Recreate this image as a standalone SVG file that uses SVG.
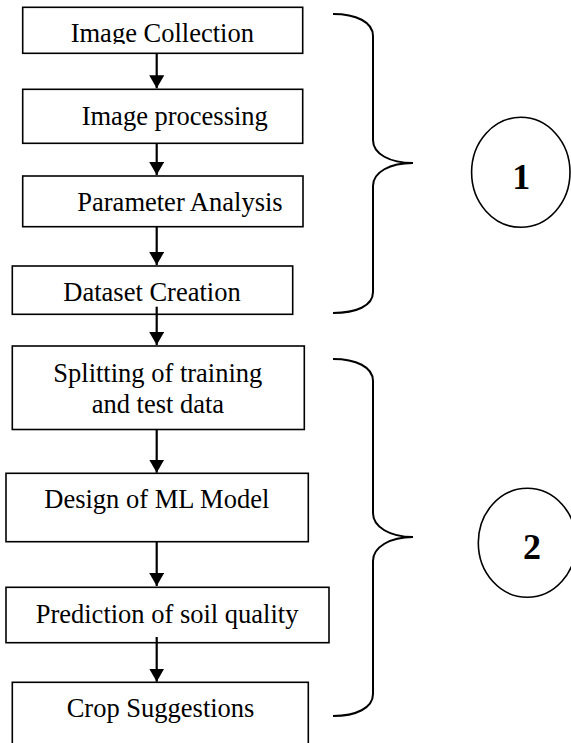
<svg xmlns="http://www.w3.org/2000/svg" width="571" height="743" viewBox="0 0 571 743">
<style>
.box{fill:#fff;stroke:#000;stroke-width:1.6}
.lbl{font-family:"Liberation Serif","Times New Roman",serif;font-size:26.5px;fill:#000}
.num{font-family:"Liberation Serif","Times New Roman",serif;font-size:36px;font-weight:bold;fill:#000;text-anchor:middle}
.conn{stroke:#000;stroke-width:2.2;fill:none}
.brace{stroke:#000;stroke-width:2;fill:none}
.circ{fill:#fff;stroke:#000;stroke-width:1.6}
</style>
<defs>
<marker id="ah" markerUnits="userSpaceOnUse" viewBox="0 0 13 15" markerWidth="13" markerHeight="15" refX="13" refY="7.5" orient="auto">
<path d="M0,0 L13,7.5 L0,15 Z" fill="#000"/>
</marker>
<clipPath id="c1"><rect x="22" y="7" width="281" height="37"/></clipPath>
</defs>
<rect x="0" y="0" width="571" height="743" fill="#fff"/>
<g id="n1"><rect class="box" x="22.7" y="7.3" width="280" height="46"/><text class="lbl" x="70.7" y="41.7" clip-path="url(#c1)">Image Collection</text></g>
<g id="n2"><rect class="box" x="22.7" y="89.3" width="280" height="54"/><text class="lbl" x="81.7" y="125">Image processing</text></g>
<g id="n3"><rect class="box" x="22.7" y="176" width="280.3" height="50.7"/><text class="lbl" x="77.3" y="210.7">Parameter Analysis</text></g>
<g id="n4"><rect class="box" x="12.3" y="266" width="280.4" height="48.3"/><text class="lbl" x="63.3" y="300.7">Dataset Creation</text></g>
<g id="n5"><rect class="box" x="12.3" y="346" width="292" height="83.5"/><text class="lbl" x="53.3" y="381.7">Splitting of training</text><text class="lbl" x="91.7" y="413.3">and test data</text></g>
<g id="n6"><rect class="box" x="6" y="473.3" width="302.3" height="68.4"/><text class="lbl" x="44.3" y="508.3">Design of ML Model</text></g>
<g id="n7"><rect class="box" x="6" y="587.3" width="323" height="55.4"/><text class="lbl" x="35.7" y="623.3">Prediction of soil quality</text></g>
<g id="n8"><rect class="box" x="12.3" y="682.3" width="296" height="80"/><text class="lbl" x="66.7" y="716.7">Crop Suggestions</text></g>
<g id="c1n"><ellipse class="circ" cx="520.8" cy="172.3" rx="49.2" ry="55"/><text class="num" x="521.3" y="189">1</text></g>
<g id="c2n"><ellipse class="circ" cx="527.3" cy="542.8" rx="49" ry="54.5"/><text class="num" x="532" y="559">2</text></g>
<g id="connectors">
<line class="conn" x1="156.7" y1="53.3" x2="156.7" y2="88.3" marker-end="url(#ah)"/>
<line class="conn" x1="156.7" y1="143.3" x2="156.7" y2="175" marker-end="url(#ah)"/>
<line class="conn" x1="156.7" y1="226.7" x2="156.7" y2="265" marker-end="url(#ah)"/>
<line class="conn" x1="156.7" y1="306.7" x2="156.7" y2="345" marker-end="url(#ah)"/>
<line class="conn" x1="156.7" y1="429.5" x2="156.7" y2="472.7" marker-end="url(#ah)"/>
<line class="conn" x1="156.7" y1="541.7" x2="156.7" y2="586" marker-end="url(#ah)"/>
<line class="conn" x1="156.7" y1="637" x2="156.7" y2="681.7" marker-end="url(#ah)"/>
</g>
<g id="braces">
<path class="brace" d="M333,14 C356,14 373,22 373,36 L373,140 C373,154 390,163 413,163 C390,163 373,172 373,186 L373,292 C373,306 356,313 333,313"/>
<path class="brace" d="M333,359 C356,359 373,367 373,381 L373,513 C373,527 390,537 413,537 C390,537 373,547 373,561 L373,694 C373,708 356,716 333,716"/>
</g>
</svg>
